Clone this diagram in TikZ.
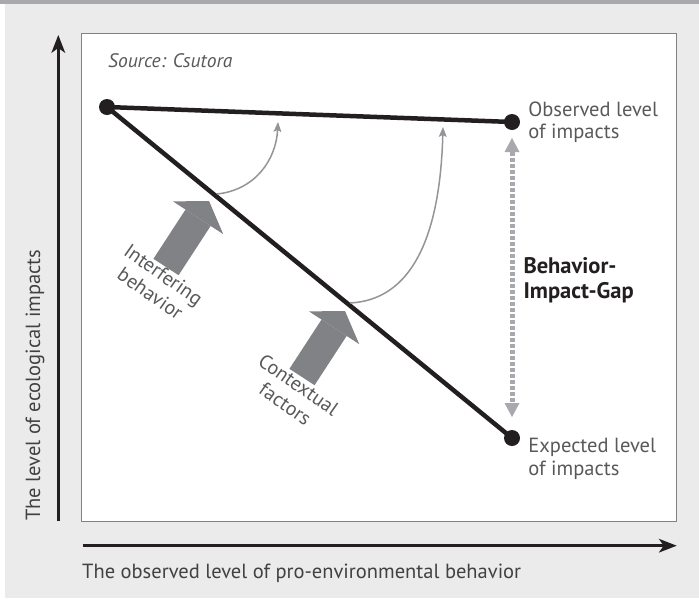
\documentclass[tikz,border=0pt]{standalone}
\usepackage{fontspec}
\setmainfont{PT Sans}
\usetikzlibrary{arrows.meta,positioning}
\definecolor{panelgray}{HTML}{EBEBEC}
\definecolor{bandgray}{HTML}{A7A9AC}
\definecolor{boxgray}{HTML}{808285}
\definecolor{inkblack}{HTML}{231F20}
\definecolor{arrowgray}{HTML}{808285}
\definecolor{curvegray}{HTML}{939598}
\definecolor{gapgray}{HTML}{A7A9AC}
\definecolor{textgray}{HTML}{414042}
\definecolor{softtext}{HTML}{58595B}

\begin{document}
\begin{tikzpicture}[x=1pt, y=-1pt,
    dot/.style={shape=circle, fill=inkblack, inner sep=0pt, minimum size=16pt},
    impactline/.style={draw=inkblack, line width=4.5pt},
    axisline/.style={draw=inkblack, line width=2.5pt, -{Stealth[length=18pt, width=14pt, inset=5pt, line width=0pt]}},
    bigarrow/.style={draw=arrowgray, line width=30pt, -{Triangle[length=20pt, width=60pt, line width=0pt]}},
    effect/.style={draw=curvegray, line width=1.5pt, -{Stealth[length=10pt, width=8pt, inset=2pt, line width=0pt]}},
    gaparrow/.style={draw=gapgray, line width=5pt, dash pattern=on 4pt off 2pt,
        {Triangle[length=14pt, width=15pt, line width=0pt]}-{Triangle[length=14pt, width=15pt, line width=0pt]}},
    lbl/.style={text=softtext, font=\fontsize{20.5}{22.5}\selectfont, align=left, inner sep=0pt},
    gaplbl/.style={text=inkblack, font=\fontsize{22.5}{25}\selectfont\bfseries, align=left, inner sep=0pt},
    factorlbl/.style={text=softtext, font=\fontsize{20}{23}\selectfont, align=center, inner sep=2pt, rotate=-35},
    srclbl/.style={text=softtext, font=\fontsize{19.5}{22}\selectfont\itshape, inner sep=0pt},
    axislbl/.style={text=textgray, font=\fontsize{20.5}{24}\selectfont, inner sep=0pt}]
    \useasboundingbox (0,0) rectangle (699,598);
    \fill[white] (0,0) rectangle (699,598);
    \fill[panelgray] (5,0) rectangle (699,598);
    \fill[bandgray] (0,0) rectangle (699,3.5);
    \draw[draw=boxgray, fill=white, line width=1pt] (81.7,33.3) rectangle (676.7,521);

    \coordinate (yfoot) at (58.3,521);
    \coordinate (ytop) at (58.3,35);
    \coordinate (xfoot) at (82.7,545.7);
    \coordinate (xend) at (676.7,545.7);
    \draw[axisline] (yfoot) -- (ytop);
    \draw[axisline] (xfoot) -- (xend);
    \node[axislbl, anchor=base west] (xlbl) at (82,578) {The observed level of pro-environmental behavior};
    \node[axislbl, anchor=base west, rotate=90] (ylbl) at (40,521) {The level of ecological impacts};

    \node[srclbl, anchor=base west] (source) at (108,67) {Source: Csutora};

    \node[dot] (start) at (107,107) {};
    \node[dot] (observed) at (512,122) {};
    \node[dot] (expected) at (512,438) {};
    \draw[impactline] (start.center) -- (observed.center);
    \draw[impactline] (start.center) -- (expected.center);
    \node[lbl, right=8pt of observed] (obslbl) {Observed level\\of impacts};
    \node[lbl, anchor=north west] (explbl) at ([xshift=8pt]expected.east) {Expected level\\of impacts};

    \draw[gaparrow, shorten <=16pt, shorten >=21pt] (observed.center) -- (expected.center)
        node[pos=0.5, right=9pt, gaplbl] {Behavior-\\Impact-Gap};

    \coordinate (ibtail) at (166,267);
    \coordinate (ibtip) at (209,201);
    \coordinate (cftail) at (302,377);
    \coordinate (cftip) at (345,311);
    \draw[bigarrow] (ibtail) -- (ibtip);
    \draw[bigarrow] (cftail) -- (cftip);
    \node[factorlbl, anchor=north] (interfering) at ([xshift=3pt]ibtail) {Interfering\\behavior};
    \node[factorlbl, anchor=north] (contextual) at ([xshift=2pt]cftail) {Contextual\\factors};

    \coordinate (ibfrom) at (217,194);
    \coordinate (ibto) at (278,122);
    \coordinate (cffrom) at (350,303);
    \coordinate (cfto) at (443,127);
    \draw[effect] (ibfrom) .. controls (255,190) and (276,160) .. (ibto);
    \draw[effect] (cffrom) .. controls (410,300) and (440,240) .. (cfto);
\end{tikzpicture}
\end{document}
